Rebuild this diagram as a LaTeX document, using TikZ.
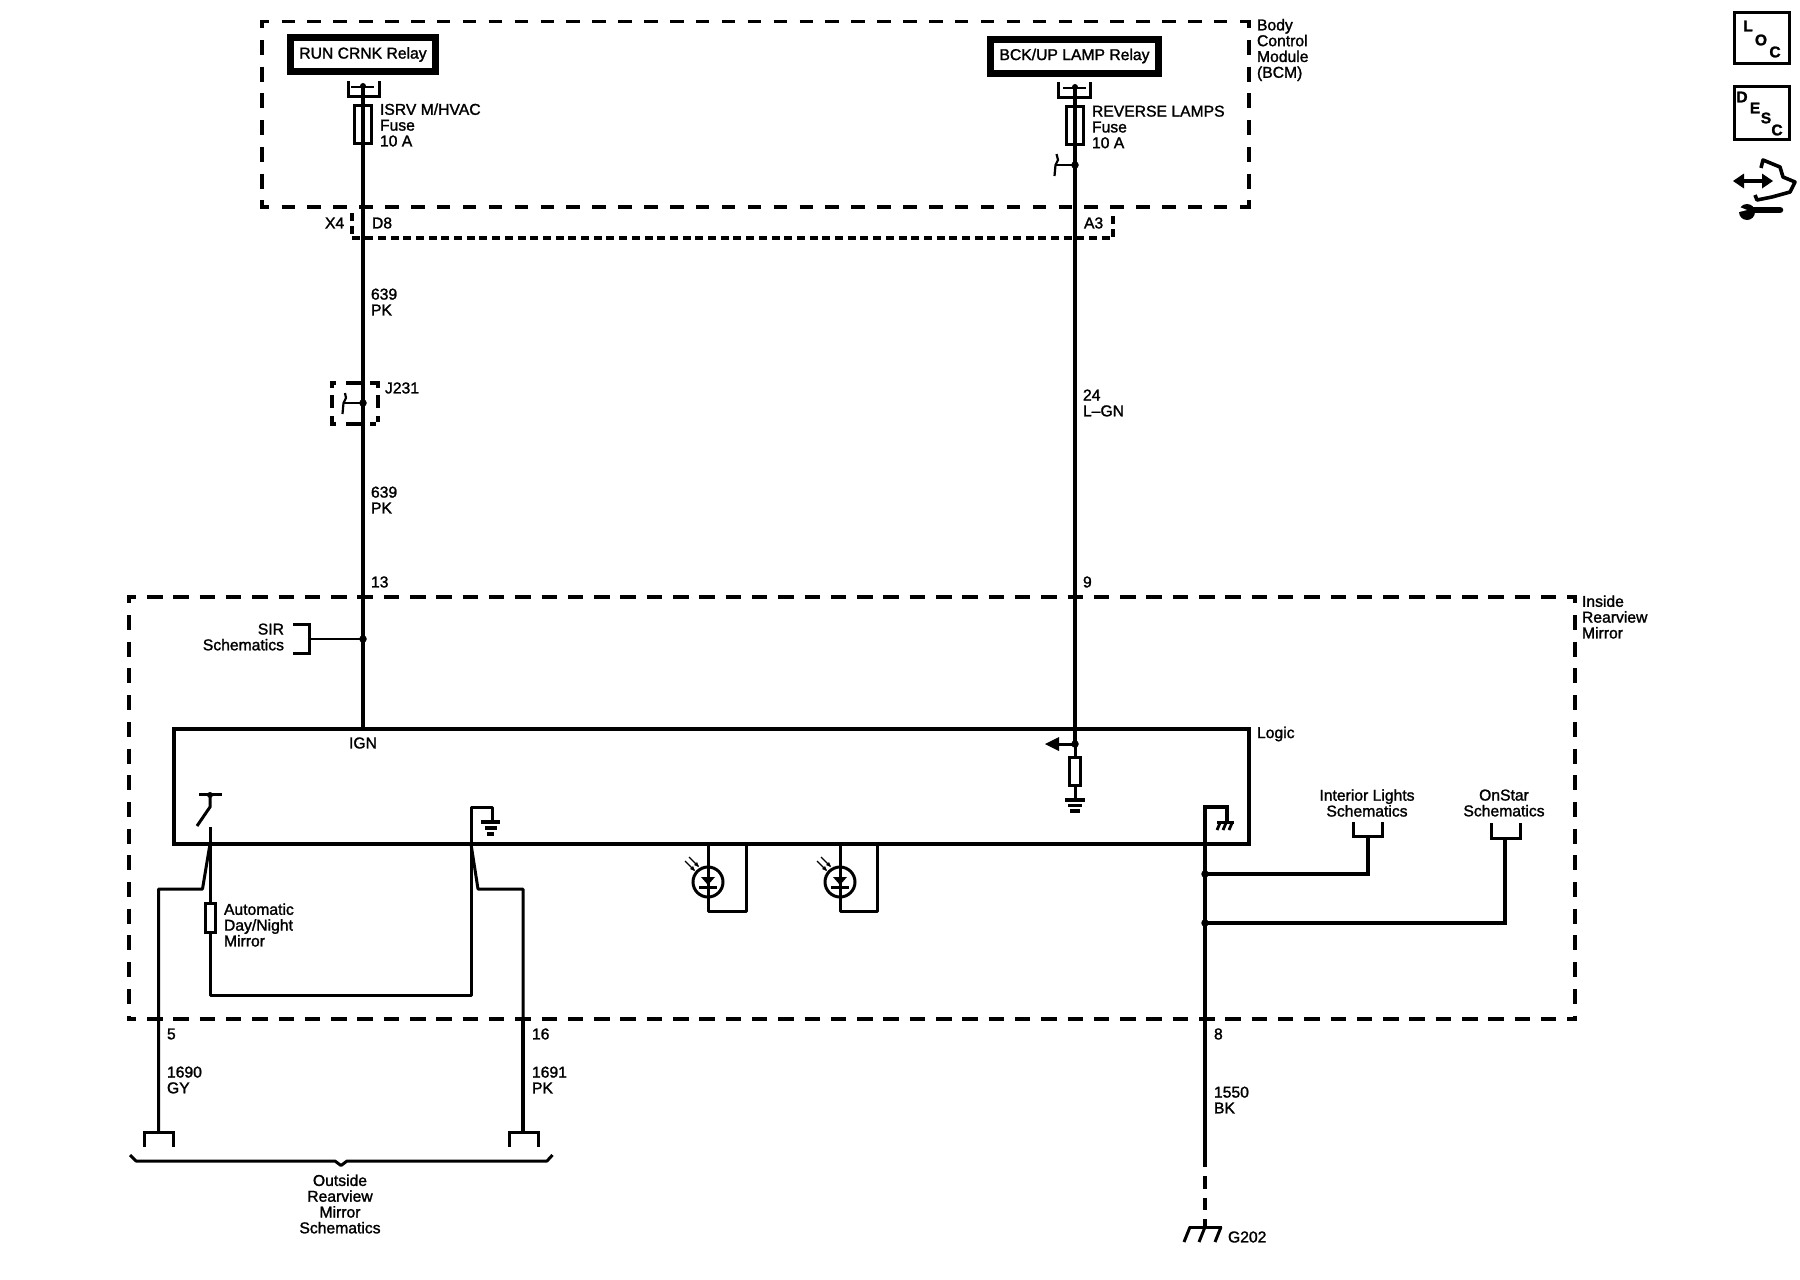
\documentclass[tikz,border=0pt]{standalone}
\usepackage{fontspec}
\setmainfont{Liberation Sans}[FakeBold=1.5]
\tikzset{
  wire/.style={line width=4pt,line cap=butt,line join=miter},
  thin wire/.style={line width=3pt,line join=miter},
  bcmh/.style={line width=3.4pt,dash pattern=on 13.5pt off 12.4pt,dash phase=4.7,shorten <=-1.7pt,shorten >=-1.7pt},
  bcmv/.style={line width=3.4pt,dash pattern=on 15pt off 11.7pt,dash phase=6.7,shorten <=-1.7pt,shorten >=-1.7pt},
  mirh/.style={line width=3.4pt,dash pattern=on 15.5pt off 10.8pt,dash phase=6.6,shorten <=-1.7pt,shorten >=-1.7pt},
  mirv/.style={line width=3.4pt,dash pattern=on 15pt off 11.7pt,dash phase=7,shorten <=-1.7pt,shorten >=-1.7pt},
  conn/.style={line width=3.2pt,dash pattern=on 8pt off 4.7pt},
  spliceh/.style={line width=3.2pt,dash pattern=on 6pt off 10pt on 15pt off 9pt on 6pt off 30pt,shorten <=-1.6pt,shorten >=-1.6pt},
  splicev/.style={line width=3.2pt,dash pattern=on 7pt off 7pt on 13pt off 8pt on 6pt off 30pt,shorten <=-1.6pt,shorten >=-1.6pt},
  txt/.style={inner sep=0pt,outer sep=0pt,font=\fontsize{15.7}{15.8}\selectfont,align=left},
  ctxt/.style={txt,align=center},
  rtxt/.style={txt,align=right,anchor=east},
  ltxt/.style={txt,anchor=west},
  relay/.style={draw,line width=7pt,inner sep=0pt,minimum height=34pt,font=\fontsize{15.7}{15.8}\selectfont},
  fuse/.style={draw,line width=3pt,inner sep=0pt,minimum width=17pt,minimum height=38pt},
  res/.style={draw,line width=3pt,fill=white,inner sep=0pt,minimum width=11pt,minimum height=28pt},
  jdot/.style={circle,fill=black,inner sep=0pt,minimum size=7.5pt},
  led/.style={circle,draw,line width=3pt,inner sep=0pt,minimum size=30pt},
  icobox/.style={draw,line width=3pt,inner sep=0pt,minimum width=55pt},
  icotxt/.style={inner sep=0pt,font=\fontsize{15.5}{15.5}\selectfont\bfseries},
}
\begin{document}
\begin{tikzpicture}[x=1pt,y=-1pt]
\useasboundingbox[fill=white] (0,0) rectangle (1800,1280);

% ---- module boundaries
\coordinate (bcmTL) at (262,21.7);
\coordinate (bcmTR) at (1249,21.7);
\coordinate (bcmBL) at (262,207);
\coordinate (bcmBR) at (1249,207);
\draw[bcmh] (bcmTL) -- (bcmTR);
\draw[bcmh] (bcmBL) -- (bcmBR);
\draw[bcmv] (bcmTL) -- (bcmBL);
\draw[bcmv] (bcmTR) -- (bcmBR);
\coordinate (mirTL) at (129,597);
\coordinate (mirTR) at (1575,597);
\coordinate (mirBL) at (129,1019);
\coordinate (mirBR) at (1575,1019);
\draw[mirh] (mirTL) -- (mirTR);
\draw[mirh] (mirBL) -- (mirBR);
\draw[mirv] (mirTL) -- (mirBL);
\draw[mirv] (mirTR) -- (mirBR);

% ---- X4 connector outline
\coordinate (x4a) at (352,213);
\coordinate (x4b) at (352,238);
\coordinate (x4c) at (1113,238);
\coordinate (x4d) at (1113,213);
\draw[conn] (x4a) -- (x4b) -- (x4c) -- (x4d);

% ---- relays
\node[relay,minimum width=145pt] (runRelay) at (363,54.5) {RUN CRNK Relay};
\node[relay,minimum width=168pt] (bckRelay) at (1074.5,56) {\raisebox{1pt}{BCK/UP LAMP Relay}};

% ---- left feed
\node[jdot,minimum size=6pt] (pinA) at (363,86) {};
\node[jdot] (jSir) at (363,639) {};
\node[jdot] (jJ231) at (363,403) {};
\coordinate (ignPin) at (363,729);
\draw[wire] (pinA.center) -- (ignPin);
\node[fuse] (fuseA) at (363,124.5) {};
\coordinate (brA1) at (348.5,81);
\coordinate (brA2) at (348.5,96);
\coordinate (brA3) at (379.5,96);
\coordinate (brA4) at (379.5,81);
\draw[thin wire] (brA1) -- (brA2) -- (brA3) -- (brA4);
\coordinate (tickA1) at (351,87);
\coordinate (tickA2) at (374,87);
\draw[line width=2.8pt] (tickA1) -- (tickA2);

% ---- J231 splice
\coordinate (j1) at (332,383);
\coordinate (j2) at (378,383);
\coordinate (j3) at (378,424);
\coordinate (j4) at (332,424);
\draw[spliceh] (j1) -- (j2);
\draw[spliceh] (j4) -- (j3);
\draw[splicev] (j1) -- (j4);
\draw[splicev] (j2) -- (j3);
\coordinate (jS) at (344,403);
\draw[line width=2.8pt] (jJ231.center) -- (jS);
\draw[line width=2.2pt,line join=round] (345,393) -- (346,398) -- (343.5,403) -- (342.5,414);

% ---- right feed
\node[jdot,minimum size=6pt] (pinB) at (1075,87) {};
\node[jdot] (jRev) at (1075,165) {};
\node[jdot] (jArrow) at (1075,744) {};
\draw[line width=3.6pt] (pinB.center) -- (jArrow.center);
\node[fuse] (fuseB) at (1075,125.5) {};
\coordinate (brB1) at (1058.5,82);
\coordinate (brB2) at (1058.5,97);
\coordinate (brB3) at (1090.5,97);
\coordinate (brB4) at (1090.5,82);
\draw[thin wire] (brB1) -- (brB2) -- (brB3) -- (brB4);
\coordinate (tickB1) at (1063,88);
\coordinate (tickB2) at (1086,88);
\draw[line width=2.8pt] (tickB1) -- (tickB2);
\coordinate (rS) at (1056,165);
\draw[line width=2.8pt] (jRev.center) -- (rS);
\draw[line width=2.2pt,line join=round] (1056.5,154) -- (1058,160) -- (1055.5,165) -- (1054.5,176);

% ---- SIR branch
\coordinate (sirM) at (309,639);
\draw[thin wire,line width=2.8pt] (jSir.center) -- (sirM);
\coordinate (sir1) at (293,624);
\coordinate (sir2) at (309,624);
\coordinate (sir3) at (309,653);
\coordinate (sir4) at (293,653);
\draw[thin wire] (sir1) -- (sir2) -- (sir3) -- (sir4);

% ---- logic box
\node[draw,line width=3.6pt,inner sep=0pt,minimum width=1075pt,minimum height=115pt] (logic) at (711.5,786.5) {};

% ---- right internal: arrow, resistor, ground
\coordinate (arrBase) at (1059,744);
\draw[line width=3pt] (jArrow.center) -- (arrBase);
\fill (1045,744) -- (1059,737) -- (1059,751) -- cycle;
\coordinate (gndR) at (1075,800);
\draw[line width=3pt] (jArrow.center) -- (gndR);
\node[res] (resR) at (1074.5,771) {};
\draw[line width=3.2pt] (1065,800) -- (1085,800);
\draw[line width=3.2pt] (1068,805.5) -- (1082,805.5);
\draw[line width=3.2pt] (1070,811) -- (1080,811);

% ---- auto dim switch and branches
\node[jdot,minimum size=6pt] (swDot) at (210,795) {};
\coordinate (swBarL) at (199,794);
\coordinate (swBarR) at (222,794);
\draw[line width=3pt] (swBarL) -- (swBarR);
\coordinate (swKnee) at (210,807);
\coordinate (swBlade) at (197,826);
\draw[line width=3pt] (swDot.center) -- (swKnee) -- (swBlade);
\coordinate (swFix) at (210,827);
\coordinate (loopBL) at (210,995);
\coordinate (loopBR) at (471,995);
\coordinate (gndUp) at (471,807);
\coordinate (gndOver) at (492,807);
\coordinate (gndL) at (492,822);
\draw[line width=3pt,line join=round] (swFix) -- (loopBL) -- (loopBR) -- (gndUp) -- (gndOver) -- (gndL);
\node[res,minimum width=10.5pt,minimum height=28.5pt] (resDay) at (210.5,918) {};
\draw[line width=3.2pt] (481,822) -- (500,822);
\draw[line width=3.2pt] (484.5,828) -- (497,828);
\draw[line width=3.2pt] (487,834) -- (494,834);

% ---- outside mirror wires
\coordinate (m5a) at (210,844);
\coordinate (m5b) at (202.5,889);
\coordinate (m5c) at (158.5,889);
\coordinate (m5d) at (158.5,1132);
\draw[line width=3pt,line join=round] (m5a) -- (m5b) -- (m5c) -- (m5d);
\coordinate (m16a) at (471,844);
\coordinate (m16b) at (478,889);
\coordinate (m16c) at (523,889);
\coordinate (m16d) at (523,1132);
\draw[line width=3pt,line join=round] (m16a) -- (m16b) -- (m16c) -- (m16d);
\coordinate (m16e) at (523,1019);
\draw[line width=3.6pt] (m16e) -- (m16d);
\coordinate (bL1) at (144,1147);
\coordinate (bL2) at (144,1132);
\coordinate (bL3) at (173,1132);
\coordinate (bL4) at (173,1147);
\draw[thin wire] (bL1) -- (bL2) -- (bL3) -- (bL4);
\coordinate (bR1) at (509,1147);
\coordinate (bR2) at (509,1132);
\coordinate (bR3) at (538,1132);
\coordinate (bR4) at (538,1147);
\draw[thin wire] (bR1) -- (bR2) -- (bR3) -- (bR4);
% brace
\draw[line width=3pt,line join=round] (130,1155) -- (136,1161) -- (335,1161) -- (341,1165.5) -- (347,1161) -- (547,1161) -- (552.5,1155);

% ---- LEDs
\foreach \n/\x/\r in {a/708/746,b/840/877}{
  \node[led] (led\n) at (\x,882) {};
  \coordinate (led\n T) at (\x,844);
  \coordinate (led\n B) at (\x,911);
  \coordinate (led\n R) at (\r,911);
  \coordinate (led\n U) at (\r,844);
  \draw[line width=3pt,line join=round] (led\n T) -- (led\n B) -- (led\n R) -- (led\n U);
  \fill (\x-7,877) -- (\x+7,877) -- (\x,885) -- cycle;
  \draw[line width=3pt] (\x-9,887) -- (\x+9,887);
  \draw[line width=1.4pt] (\x-23,861) -- (\x-14,870);
  \draw[line width=1.4pt] (\x-19,857) -- (\x-10,866);
  \fill (\x-13,871) -- (\x-18,869) -- (\x-15,866) -- cycle;
  \fill (\x-9,867) -- (\x-14,865) -- (\x-11,862) -- cycle;
}

% ---- ground wire
\node[jdot] (jInt) at (1205,874) {};
\node[jdot] (jOn) at (1205,923) {};
\coordinate (gOver) at (1205,807);
\coordinate (gOverR) at (1227,807);
\coordinate (gOverD) at (1227,822);
\coordinate (gSolid) at (1205,1167);
\draw[line width=3.4pt,line join=miter] (gOverD) -- (gOverR) -- (gOver) -- (gSolid);
\coordinate (gDash) at (1205,1227);
\draw[wire,dash pattern=on 12.5pt off 9pt,dash phase=-9] (gSolid) -- (gDash);
\draw[line width=3pt] (1217,822) -- (1234,822);
\foreach \x in {1219,1225,1231} \draw[line width=2.8pt] (\x+1,823) -- (\x-2,830);
\coordinate (g1a) at (1189,1227);
\coordinate (g1b) at (1222,1227);
\draw[line width=3pt] (g1a) -- (g1b);
\foreach \x in {1190,1205,1221} \draw[line width=3pt] (\x,1227) -- (\x-6,1242);

% ---- schematic stubs
\coordinate (intK) at (1368,874);
\coordinate (intU) at (1368,836);
\draw[line width=3.4pt,line join=miter] (jInt.center) -- (intK) -- (intU);
\coordinate (i1) at (1353.5,822);
\coordinate (i2) at (1353.5,836);
\coordinate (i3) at (1382.5,836);
\coordinate (i4) at (1382.5,822);
\draw[thin wire] (i1) -- (i2) -- (i3) -- (i4);
\coordinate (onK) at (1505,923);
\coordinate (onU) at (1505,838);
\draw[line width=3.4pt,line join=miter] (jOn.center) -- (onK) -- (onU);
\coordinate (o1) at (1491,823);
\coordinate (o2) at (1491,838);
\coordinate (o3) at (1520,838);
\coordinate (o4) at (1520,823);
\draw[thin wire] (o1) -- (o2) -- (o3) -- (o4);

% ---- text labels
\node[ltxt] (tIsrv) at (380,125) {ISRV M/HVAC\\Fuse\\10 A};
\node[ltxt] (tRev) at (1092,127) {REVERSE LAMPS\\Fuse\\10 A};
\node[ltxt] (tBcm) at (1257,50) {Body\\Control\\Module\\(BCM)};
\node[ltxt] (tX4) at (325,223) {X4};
\node[ltxt] (tD8) at (372,223) {D8};
\node[ltxt] (tA3) at (1084,223) {A3};
\node[ltxt] (t639a) at (371,302) {639\\PK};
\node[ltxt] (tJ231) at (385,388) {J231};
\node[ltxt] (t24) at (1083,403) {24\\L–GN};
\node[ltxt] (t639b) at (371,500) {639\\PK};
\node[ltxt] (t13) at (371,582) {13};
\node[ltxt] (t9) at (1083,582) {9};
\node[ltxt] (tMir) at (1582,617) {Inside\\Rearview\\Mirror};
\node[rtxt] (tSir) at (284,637) {SIR\\Schematics};
\node[ctxt] (tIgn) at (363,743) {IGN};
\node[ltxt] (tLogic) at (1257,734) {Logic};
\node[ctxt] (tInt) at (1367,803) {Interior Lights\\Schematics};
\node[ctxt] (tOn) at (1504,803) {OnStar\\Schematics};
\node[ltxt] (tAuto) at (224,925) {Automatic\\Day/Night\\Mirror};
\node[ltxt] (t5) at (167,1034) {5};
\node[ltxt] (t16) at (532,1034) {16};
\node[ltxt] (t8) at (1214,1034) {8};
\node[ltxt] (t1690) at (167,1080) {1690\\GY};
\node[ltxt] (t1691) at (532,1080) {1691\\PK};
\node[ltxt] (t1550) at (1214,1100) {1550\\BK};
\node[ctxt] (tOut) at (340,1204) {Outside\\Rearview\\Mirror\\Schematics};
\node[ltxt] (tG) at (1228,1237) {G202};

% ---- page icons
\node[icobox,minimum height=51pt] (loc) at (1762,37.5) {};
\node[icotxt] (locL) at (1748,26) {L};
\node[icotxt] (locO) at (1761,40) {O};
\node[icotxt] (locC) at (1775,52) {C};
\node[icobox,minimum height=53pt] (desc) at (1762,112.5) {};
\node[icotxt] (descD) at (1742,97) {D};
\node[icotxt] (descE) at (1755,108) {E};
\node[icotxt] (descS) at (1766,118) {S};
\node[icotxt] (descC) at (1777,130) {C};
% service icon
\draw[line width=4pt] (1740,181) -- (1766,181);
\fill (1733,181) -- (1744,173.5) -- (1744,188.5) -- cycle;
\fill (1773,181) -- (1762,173.5) -- (1762,188.5) -- cycle;
\draw[line width=3.6pt,line join=round] (1761,168) -- (1763,160) -- (1780,167) -- (1783,177) -- (1795,182) -- (1790,192) -- (1772,197) -- (1757,200) -- (1755,195);
\draw[line width=6.5pt,line cap=round] (1750,210) -- (1780,210);
\fill (1747,212) circle[radius=8pt];
\fill[white] (1737,206) -- (1747,210) -- (1737,212.5) -- cycle;
\end{tikzpicture}
\end{document}
